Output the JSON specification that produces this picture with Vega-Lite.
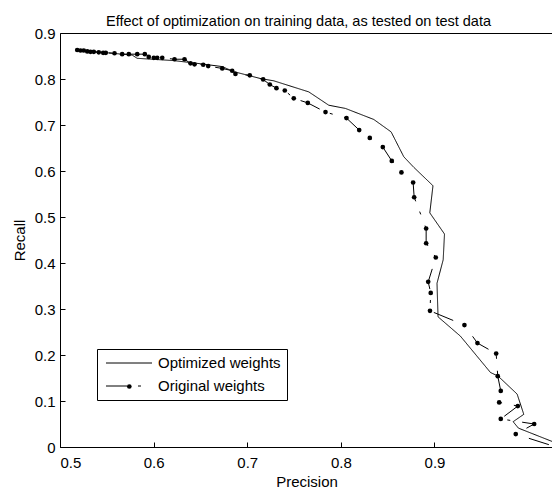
{
  "$schema": "https://vega.github.io/schema/vega-lite/v6.json",
  "autosize": {"type": "none"},
  "padding": {"left": 60, "top": 33, "right": 0, "bottom": 44},
  "width": 493,
  "height": 414,
  "background": "white",
  "config": {
    "view": {"stroke": "black", "strokeWidth": 1},
    "font": "Liberation Sans",
    "axis": {"grid": false, "domain": false, "tickColor": "black", "labelColor": "black", "titleColor": "black", "labelFont": "Liberation Sans", "titleFont": "Liberation Sans", "labelFontSize": 15, "titleFontSize": 15, "titleFontWeight": "normal", "tickSize": -5, "tickWidth": 1}
  },
  "title": {"text": "Effect of optimization on training data, as tested on test data", "fontSize": 14.5, "fontWeight": "normal", "font": "Liberation Sans", "color": "black", "offset": -3, "dx": -8},
  "data": {"values": [
    {"series": "Optimized weights", "i": 1, "p": 0.5177, "r": 0.863},
    {"series": "Optimized weights", "i": 2, "p": 0.5771, "r": 0.852},
    {"series": "Optimized weights", "i": 3, "p": 0.5824, "r": 0.845},
    {"series": "Optimized weights", "i": 4, "p": 0.6215, "r": 0.840},
    {"series": "Optimized weights", "i": 5, "p": 0.6465, "r": 0.834},
    {"series": "Optimized weights", "i": 6, "p": 0.6733, "r": 0.827},
    {"series": "Optimized weights", "i": 7, "p": 0.6856, "r": 0.816},
    {"series": "Optimized weights", "i": 8, "p": 0.7141, "r": 0.801},
    {"series": "Optimized weights", "i": 9, "p": 0.7284, "r": 0.796},
    {"series": "Optimized weights", "i": 10, "p": 0.7657, "r": 0.772},
    {"series": "Optimized weights", "i": 11, "p": 0.7871, "r": 0.743},
    {"series": "Optimized weights", "i": 12, "p": 0.8049, "r": 0.736},
    {"series": "Optimized weights", "i": 13, "p": 0.8352, "r": 0.712},
    {"series": "Optimized weights", "i": 14, "p": 0.8537, "r": 0.685},
    {"series": "Optimized weights", "i": 15, "p": 0.8672, "r": 0.631},
    {"series": "Optimized weights", "i": 16, "p": 0.8779, "r": 0.608},
    {"series": "Optimized weights", "i": 17, "p": 0.8984, "r": 0.568},
    {"series": "Optimized weights", "i": 18, "p": 0.8950, "r": 0.509},
    {"series": "Optimized weights", "i": 19, "p": 0.9107, "r": 0.463},
    {"series": "Optimized weights", "i": 20, "p": 0.9093, "r": 0.407},
    {"series": "Optimized weights", "i": 21, "p": 0.9027, "r": 0.356},
    {"series": "Optimized weights", "i": 22, "p": 0.9038, "r": 0.283},
    {"series": "Optimized weights", "i": 23, "p": 0.9277, "r": 0.241},
    {"series": "Optimized weights", "i": 24, "p": 0.9598, "r": 0.162},
    {"series": "Optimized weights", "i": 25, "p": 0.9680, "r": 0.154},
    {"series": "Optimized weights", "i": 26, "p": 0.9883, "r": 0.115},
    {"series": "Optimized weights", "i": 27, "p": 0.9954, "r": 0.071},
    {"series": "Optimized weights", "i": 28, "p": 0.9840, "r": 0.055},
    {"series": "Optimized weights", "i": 29, "p": 0.9897, "r": 0.041},
    {"series": "Optimized weights", "i": 30, "p": 1.0257, "r": 0.012},
    {"series": "Optimized weights", "i": 31, "p": 1.0346, "r": 0.0},
    {"series": "Original weights", "i": 1, "p": 0.5184, "r": 0.863},
    {"series": "Original weights", "i": 2, "p": 0.5219, "r": 0.862},
    {"series": "Original weights", "i": 3, "p": 0.5254, "r": 0.862},
    {"series": "Original weights", "i": 4, "p": 0.5291, "r": 0.860},
    {"series": "Original weights", "i": 5, "p": 0.5326, "r": 0.859},
    {"series": "Original weights", "i": 6, "p": 0.5361, "r": 0.859},
    {"series": "Original weights", "i": 7, "p": 0.5414, "r": 0.858},
    {"series": "Original weights", "i": 8, "p": 0.5461, "r": 0.857},
    {"series": "Original weights", "i": 9, "p": 0.5489, "r": 0.857},
    {"series": "Original weights", "i": 10, "p": 0.5582, "r": 0.856},
    {"series": "Original weights", "i": 11, "p": 0.5664, "r": 0.854},
    {"series": "Original weights", "i": 12, "p": 0.5735, "r": 0.854},
    {"series": "Original weights", "i": 13, "p": 0.5825, "r": 0.854},
    {"series": "Original weights", "i": 14, "p": 0.5906, "r": 0.854},
    {"series": "Original weights", "i": 15, "p": 0.5948, "r": 0.848},
    {"series": "Original weights", "i": 16, "p": 0.6002, "r": 0.846},
    {"series": "Original weights", "i": 17, "p": 0.6038, "r": 0.846},
    {"series": "Original weights", "i": 18, "p": 0.6092, "r": 0.846},
    {"series": "Original weights", "i": 19, "p": 0.6223, "r": 0.843},
    {"series": "Original weights", "i": 20, "p": 0.6330, "r": 0.843},
    {"series": "Original weights", "i": 21, "p": 0.6394, "r": 0.834},
    {"series": "Original weights", "i": 22, "p": 0.6437, "r": 0.832},
    {"series": "Original weights", "i": 23, "p": 0.6530, "r": 0.831},
    {"series": "Original weights", "i": 24, "p": 0.6583, "r": 0.828},
    {"series": "Original weights", "i": 25, "p": 0.6733, "r": 0.823},
    {"series": "Original weights", "i": 26, "p": 0.6839, "r": 0.818},
    {"series": "Original weights", "i": 27, "p": 0.6874, "r": 0.811},
    {"series": "Original weights", "i": 28, "p": 0.7027, "r": 0.808},
    {"series": "Original weights", "i": 29, "p": 0.7170, "r": 0.799},
    {"series": "Original weights", "i": 30, "p": 0.7241, "r": 0.788},
    {"series": "Original weights", "i": 31, "p": 0.7312, "r": 0.780},
    {"series": "Original weights", "i": 32, "p": 0.7401, "r": 0.775},
    {"series": "Original weights", "i": 33, "p": 0.7497, "r": 0.758},
    {"series": "Original weights", "i": 34, "p": 0.7647, "r": 0.748},
    {"series": "Original weights", "i": 35, "p": 0.7836, "r": 0.728},
    {"series": "Original weights", "i": 36, "p": 0.8060, "r": 0.715},
    {"series": "Original weights", "i": 37, "p": 0.8196, "r": 0.689},
    {"series": "Original weights", "i": 38, "p": 0.8309, "r": 0.672},
    {"series": "Original weights", "i": 39, "p": 0.8448, "r": 0.652},
    {"series": "Original weights", "i": 40, "p": 0.8544, "r": 0.622},
    {"series": "Original weights", "i": 41, "p": 0.8647, "r": 0.597},
    {"series": "Original weights", "i": 42, "p": 0.8772, "r": 0.575},
    {"series": "Original weights", "i": 43, "p": 0.8783, "r": 0.543},
    {"series": "Original weights", "i": 44, "p": 0.8911, "r": 0.475},
    {"series": "Original weights", "i": 45, "p": 0.8911, "r": 0.443},
    {"series": "Original weights", "i": 46, "p": 0.9014, "r": 0.412},
    {"series": "Original weights", "i": 47, "p": 0.8933, "r": 0.359},
    {"series": "Original weights", "i": 48, "p": 0.8960, "r": 0.335},
    {"series": "Original weights", "i": 49, "p": 0.8952, "r": 0.296},
    {"series": "Original weights", "i": 50, "p": 0.9320, "r": 0.265},
    {"series": "Original weights", "i": 51, "p": 0.9459, "r": 0.226},
    {"series": "Original weights", "i": 52, "p": 0.9659, "r": 0.203},
    {"series": "Original weights", "i": 53, "p": 0.9676, "r": 0.154},
    {"series": "Original weights", "i": 54, "p": 0.9708, "r": 0.122},
    {"series": "Original weights", "i": 55, "p": 0.9691, "r": 0.097},
    {"series": "Original weights", "i": 56, "p": 0.9890, "r": 0.089},
    {"series": "Original weights", "i": 57, "p": 0.9708, "r": 0.061},
    {"series": "Original weights", "i": 58, "p": 1.0065, "r": 0.050},
    {"series": "Original weights", "i": 59, "p": 0.9868, "r": 0.028},
    {"series": "Original weights", "i": 60, "p": 1.0300, "r": 0.0}
  ]},
  "layer": [
    {
      "mark": {"type": "line", "color": "black", "strokeWidth": 1, "clip": true},
      "encoding": {
        "x": {"field": "p", "type": "quantitative", "scale": {"domain": [0.5, 1.0266], "nice": false, "zero": false}, "axis": {"title": "Precision", "values": [0.5, 0.6, 0.7, 0.8, 0.9], "format": ".1f", "labelPadding": 13, "titlePadding": 4}},
        "y": {"field": "r", "type": "quantitative", "scale": {"domain": [0, 0.9], "nice": false}, "axis": {"title": "Recall", "values": [0, 0.1, 0.2, 0.3, 0.4, 0.5, 0.6, 0.7, 0.8, 0.9], "labelExpr": "datum.value == 0 ? '0' : format(datum.value, '.1f')", "labelPadding": 10, "titlePadding": 7}},
        "order": {"field": "i", "type": "quantitative"},
        "strokeDash": {"field": "series", "type": "nominal", "scale": {"domain": ["Optimized weights", "Original weights"], "range": [[1, 0], [21, 11, 3, 12]]},
          "legend": {"orient": "none", "legendX": 37, "legendY": 316, "title": null, "strokeColor": "black", "fillColor": "white", "padding": 6, "symbolType": "M-3.067,0H3.067", "symbolSize": 225, "symbolStrokeWidth": 1, "symbolStrokeColor": "black", "symbolOffset": 18, "labelOffset": 21, "labelFontSize": 15, "labelFont": "Liberation Sans", "labelColor": "black", "rowPadding": 7, "cornerRadius": 0}}
      }
    },
    {
      "transform": [{"filter": "datum.series == 'Original weights' && datum.p < 1.02"}],
      "mark": {"type": "point", "filled": true, "color": "black", "size": 22, "opacity": 1, "clip": true},
      "encoding": {
        "x": {"field": "p", "type": "quantitative"},
        "y": {"field": "r", "type": "quantitative"},
        "shape": {"field": "series", "type": "nominal", "scale": {"domain": ["Original weights"], "range": ["circle"]},
          "legend": {"orient": "none", "legendX": 55.8, "legendY": 340, "title": null, "padding": 6, "symbolSize": 22, "symbolFillColor": "black", "symbolStrokeColor": "black", "symbolStrokeWidth": 0, "symbolOffset": 0, "labelFontSize": 15, "labelExpr": "''", "symbolOpacity": 1}}
      }
    }
  ]
}
